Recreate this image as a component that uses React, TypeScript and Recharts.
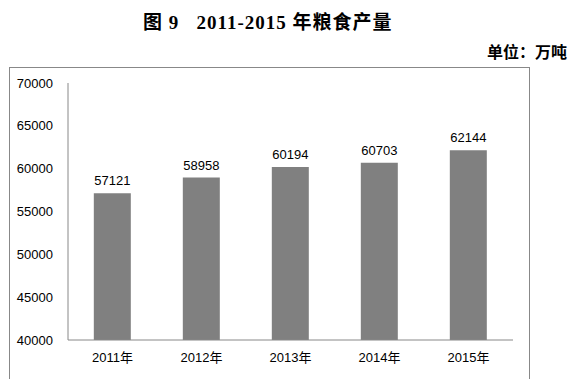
import React from "react";
import { BarChart, Bar, XAxis, YAxis, LabelList } from "recharts";

const years = ["2011年", "2012年", "2013年", "2014年", "2015年"];
const output = [57121, 58958, 60194, 60703, 62144];
const yTicks = [40000, 45000, 50000, 55000, 60000, 65000, 70000];

const data = years.map((y, i) => ({ year: y, value: output[i] }));

const tickFont = { fontSize: 13, fill: "#000", fontFamily: "'Liberation Sans', 'Noto Sans CJK SC', sans-serif" };

export default function App() {
  return (
    <div style={{ position: "absolute", left: 0, top: 0, width: 572, height: 388, background: "#fff", overflow: "hidden" }}>
      <div
        style={{
          position: "absolute",
          left: 143,
          top: 7,
          whiteSpace: "pre",
          fontFamily: "'Liberation Serif', 'Noto Sans CJK SC', serif",
          fontWeight: "bold",
          fontSize: 19,
          letterSpacing: 1,
          color: "#000",
        }}
      >
        {"图 9   2011-2015 年粮食产量"}
      </div>
      <div
        style={{
          position: "absolute",
          right: 5,
          top: 39,
          whiteSpace: "pre",
          fontFamily: "'Noto Sans CJK SC', sans-serif",
          fontWeight: "bold",
          fontSize: 16,
          color: "#000",
        }}
      >
        {"单位：万吨"}
      </div>
      <div
        style={{
          position: "absolute",
          left: 9,
          top: 67,
          width: 519,
          height: 311,
          borderTop: "1px solid #888",
          borderLeft: "1px solid #888",
          borderRight: "1px solid #888",
        }}
      />
      <div style={{ position: "absolute", left: 0, top: 0 }}>
        <BarChart
          width={572}
          height={388}
          data={data}
          margin={{ top: 83, right: 59, bottom: 0, left: 8 }}
          barCategoryGap="29%"
        >
          <XAxis
            dataKey="year"
            axisLine={{ stroke: "#888", strokeWidth: 1 }}
            tickLine={false}
            tickSize={0}
            tickMargin={13}
            tick={tickFont}
            height={48}
          />
          <YAxis
            domain={[40000, 70000]}
            ticks={yTicks}
            allowDataOverflow
            axisLine={{ stroke: "#888", strokeWidth: 1 }}
            tickLine={false}
            tickSize={0}
            tickMargin={15}
            tick={tickFont}
            width={60}
          />
          <Bar dataKey="value" fill="#808080" isAnimationActive={false}>
            <LabelList dataKey="value" position="top" offset={8} style={tickFont} />
          </Bar>
        </BarChart>
      </div>
    </div>
  );
}
